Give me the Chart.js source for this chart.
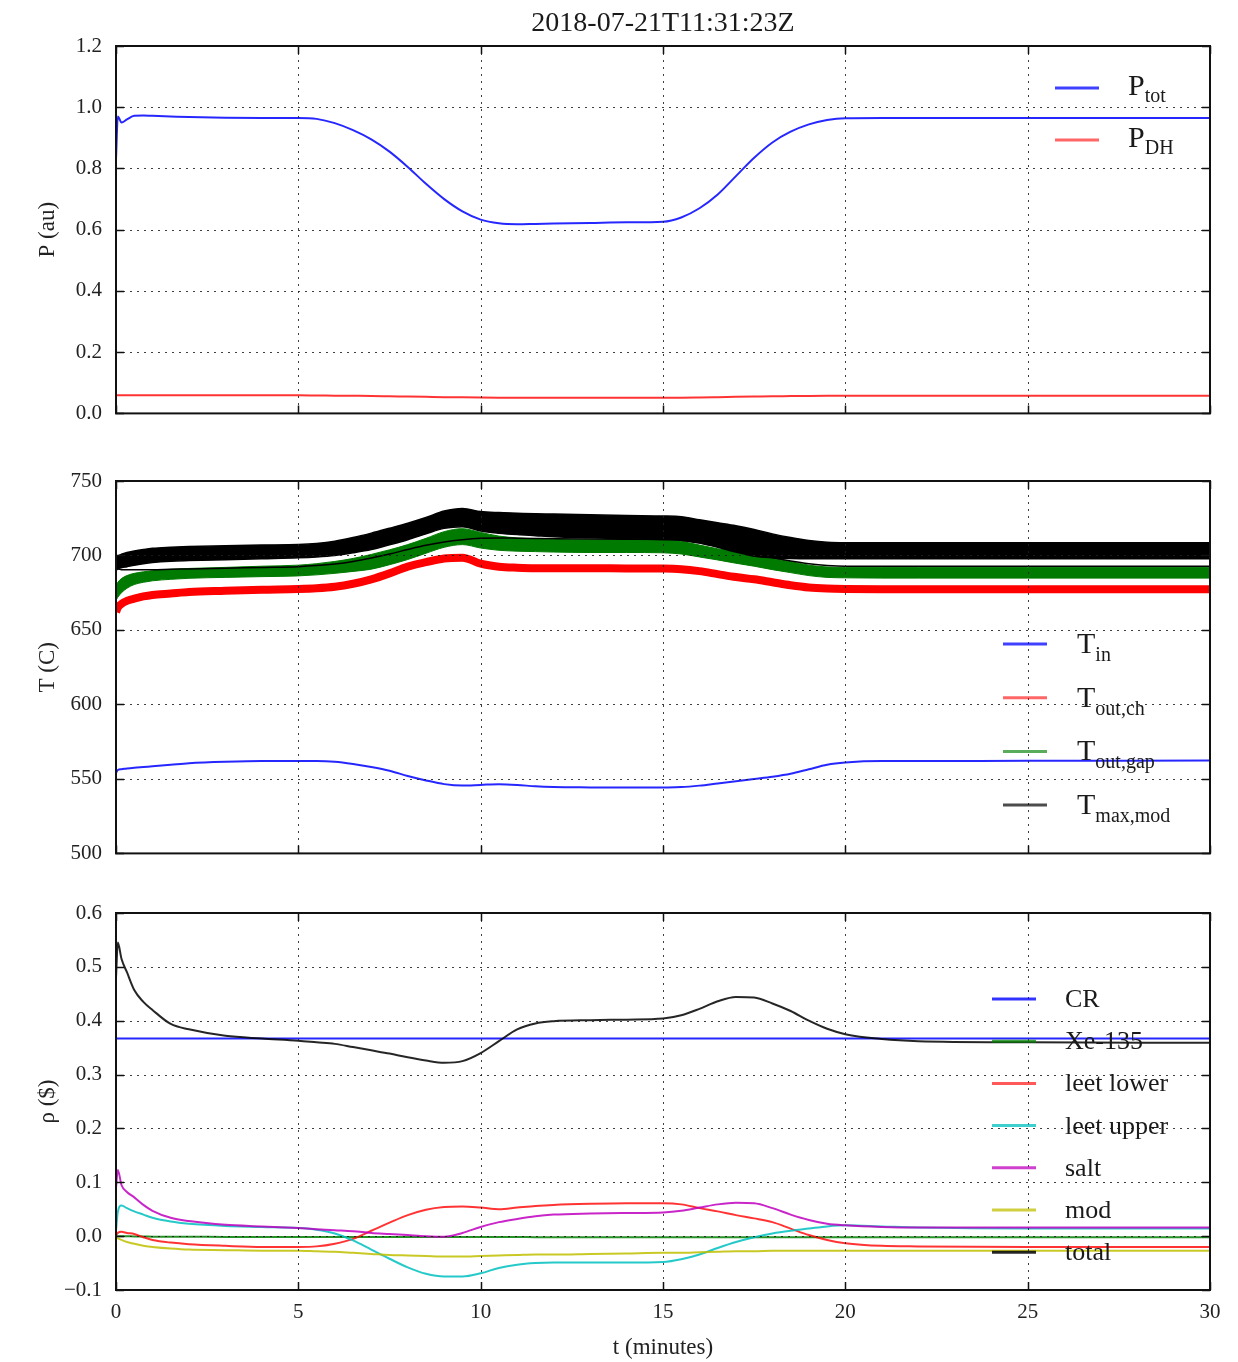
<!DOCTYPE html>
<html>
<head>
<meta charset="utf-8">
<script src="https://cdn.jsdelivr.net/npm/chart.js@4.4.1/dist/chart.umd.min.js"></script>
<style>
  html, body { margin: 0; padding: 0; background: #fff; }
  #wrap { position: relative; width: 1238px; height: 1362px; }
  #wrap canvas { position: absolute; left: 0; }
</style>
</head>
<body>
<div id="wrap">
  <canvas id="power" width="1238" height="440" style="top:0px"></canvas>
  <canvas id="temps" width="1238" height="440" style="top:440px"></canvas>
  <canvas id="react" width="1238" height="482" style="top:880px"></canvas>
</div>
<script>
const serif = '"Liberation Serif", "Times New Roman", serif';
Chart.defaults.font.family = serif;
Chart.defaults.color = '#222';

const runTitle = '2018-07-21T11:31:23Z';

// time axis (minutes), shared by every series
const minutes = [0, 0.05, 0.15, 0.3, 0.5,
  0.75, 1, 1.5, 2, 3,
  4, 5, 5.5, 6, 6.5,
  7, 7.5, 8, 8.5, 9,
  9.5, 10, 10.5, 11, 11.5,
  12, 13, 14, 15, 15.5,
  16, 16.5, 17, 17.5, 18,
  18.5, 19, 19.5, 20, 21,
  22, 25, 30];

const timeTicks = [0, 5, 10, 15, 20, 25, 30];
const powerTicks = [0, 0.2, 0.4, 0.6, 0.8, 1.0, 1.2];
const tempTicks = [500, 550, 600, 650, 700, 750];
const rhoTicks = [-0.1, 0, 0.1, 0.2, 0.3, 0.4, 0.5, 0.6];

// power (au)
const pTot = [0.83, 0.97, 0.95, 0.96, 0.972,
  0.973, 0.972, 0.97, 0.968, 0.966,
  0.965, 0.965, 0.962, 0.948, 0.925,
  0.895, 0.855, 0.805, 0.75, 0.7,
  0.66, 0.633, 0.621, 0.618, 0.619,
  0.62, 0.622, 0.624, 0.626, 0.64,
  0.67, 0.715, 0.775, 0.835, 0.885,
  0.92, 0.944, 0.958, 0.964, 0.965,
  0.965, 0.965, 0.965];
const pDH = [0.059, 0.059, 0.059, 0.059, 0.059,
  0.059, 0.059, 0.059, 0.059, 0.059,
  0.059, 0.059, 0.0585, 0.058, 0.0575,
  0.057, 0.056, 0.055, 0.054, 0.053,
  0.0525, 0.052, 0.0515, 0.051, 0.051,
  0.051, 0.051, 0.051, 0.051, 0.0512,
  0.052, 0.053, 0.054, 0.055, 0.056,
  0.0565, 0.057, 0.0575, 0.058, 0.058,
  0.058, 0.058, 0.058];

// temperatures (C)
const tIn = [554, 556, 556.5, 557, 557.5,
  558, 558.5, 559.5, 560.5, 561.5,
  562, 562, 562, 561.5, 560,
  558, 555.5, 552, 549, 546.5,
  545.5, 546, 546.5, 546, 545,
  544.5, 544.3, 544.2, 544.3, 544.5,
  545.5, 547, 548.5, 550, 551.5,
  553.5, 556.5, 559.5, 561, 562,
  562, 562.2, 562.3];
const tOutCh = [662, 665, 667.5, 669.5, 671,
  672.5, 673.5, 674.5, 675.5, 676.3,
  677, 677.5, 678, 679, 681,
  684, 688, 692.5, 695.5, 698,
  698.5, 694.5, 692.5, 691.8, 691.5,
  691.5, 691.5, 691.3, 691.2, 690.8,
  689.5, 687.5, 685.5, 684, 682,
  680, 678.5, 677.8, 677.5, 677.3,
  677.3, 677.3, 677.3];
const tGapHigh = [680, 682, 684.5, 686.5, 688,
  689, 689.8, 690.7, 691.3, 692,
  692.8, 693.5, 694.5, 696, 698,
  700.7, 703.8, 707.3, 711.5, 716,
  718, 715.5, 713, 711.8, 711.2,
  710.8, 710.5, 710.5, 710.5, 709.5,
  707, 704.5, 702.5, 700.5, 698,
  695.8, 693.5, 692.3, 692, 692,
  692, 692, 692];
const tGapLow = [670, 672, 675, 678, 680.5,
  682, 683, 684, 684.7, 685.3,
  685.8, 686.3, 687, 688, 689.3,
  690.8, 693.8, 697.3, 701.5, 705.5,
  707.3, 705, 703.5, 702.9, 702.6,
  702.3, 702, 702, 701.8, 701,
  699, 697, 694.8, 692.8, 690.5,
  688.5, 686.5, 685.3, 685, 684.8,
  684.8, 684.8, 684.8];
const tModHigh = [698, 699.5, 700.8, 702, 703,
  704, 704.8, 705.5, 706, 706.6,
  707, 707.3, 708, 709.5, 712,
  715, 718.3, 721.7, 725.5, 729.8,
  731.5, 729.5, 728.8, 728.4, 728,
  727.8, 727.3, 726.8, 726.5, 726,
  724, 722, 720, 717.5, 714.5,
  712, 710, 708.8, 708.5, 708.5,
  708.5, 708.5, 708.5];
const tModLow = [690, 691, 691.8, 692.5, 693.5,
  694.5, 695.3, 696.2, 696.6, 697.2,
  697.8, 698.4, 699, 700, 701.8,
  704, 707.2, 710.6, 714.5, 718.2,
  719.3, 716.5, 715, 714, 713.3,
  712.6, 711.9, 711.3, 710.8, 710.3,
  708.3, 705.5, 702.3, 699.5, 698.5,
  698, 697.8, 697.8, 697.8, 697.8,
  697.8, 697.8, 697.8];
const tModEdge = [691, 691, 690.5, 690.5, 690.5,
  690.5, 690.5, 690.8, 691, 691.5,
  692, 692.5, 693.2, 694.3, 696,
  698.3, 701, 704, 706.8, 709,
  710.5, 711.5, 711.8, 711.6, 711.4,
  711.2, 711, 710.9, 710.8, 710.3,
  708.5, 706, 703.5, 701, 698.5,
  696.3, 694.5, 693.3, 692.8, 692.8,
  692.8, 692.8, 692.8];

// reactivity ($)
const rhoCR = [0.367, 0.367, 0.367, 0.367, 0.367,
  0.367, 0.367, 0.367, 0.367, 0.367,
  0.367, 0.367, 0.367, 0.367, 0.367,
  0.367, 0.367, 0.367, 0.367, 0.367,
  0.367, 0.367, 0.367, 0.367, 0.367,
  0.367, 0.367, 0.367, 0.367, 0.367,
  0.367, 0.367, 0.367, 0.367, 0.367,
  0.367, 0.367, 0.367, 0.367, 0.367,
  0.367, 0.367, 0.367];
const rhoXe = [0, 0, 0, 0, -0.0005,
  -0.0005, -0.001, -0.001, -0.001, -0.0015,
  -0.0015, -0.0015, -0.0015, -0.0015, -0.0015,
  -0.0015, -0.0015, -0.0015, -0.0015, -0.0015,
  -0.0015, -0.0015, -0.0015, -0.0015, -0.002,
  -0.002, -0.002, -0.002, -0.002, -0.002,
  -0.002, -0.002, -0.002, -0.002, -0.002,
  -0.002, -0.002, -0.002, -0.002, -0.002,
  -0.002, -0.002, -0.002];
const rhoLeetLower = [0.002, 0.006, 0.008, 0.006, 0.004,
  -0.002, -0.007, -0.012, -0.015, -0.018,
  -0.02, -0.02, -0.019, -0.014, -0.005,
  0.01, 0.025, 0.039, 0.049, 0.054,
  0.055, 0.053, 0.05, 0.053, 0.056,
  0.058, 0.06, 0.061, 0.061, 0.059,
  0.052, 0.046, 0.039, 0.033, 0.026,
  0.014, 0.002, -0.007, -0.013, -0.018,
  -0.019, -0.02, -0.02];
const rhoLeetUpper = [0.01, 0.045, 0.057, 0.052, 0.046,
  0.04, 0.034, 0.027, 0.023, 0.019,
  0.017, 0.015, 0.012, 0.005, -0.008,
  -0.025, -0.042, -0.058, -0.07, -0.075,
  -0.075, -0.069, -0.059, -0.053, -0.05,
  -0.049, -0.049, -0.049, -0.048, -0.043,
  -0.034, -0.022, -0.011, -0.002, 0.005,
  0.01, 0.014, 0.018, 0.02, 0.018,
  0.016, 0.014, 0.014];
const rhoSalt = [0.09, 0.123, 0.095, 0.082, 0.072,
  0.058, 0.047, 0.034, 0.028, 0.021,
  0.018, 0.015, 0.013, 0.011, 0.009,
  0.006, 0.004, 0.002, 0.0, -0.001,
  0.006, 0.017, 0.026, 0.032, 0.037,
  0.04, 0.042, 0.043, 0.044, 0.047,
  0.053, 0.059, 0.062, 0.061, 0.052,
  0.04, 0.03, 0.023, 0.02, 0.017,
  0.016, 0.016, 0.016];
const rhoMod = [-0.002, -0.004, -0.007, -0.011, -0.014,
  -0.018, -0.02, -0.023, -0.025, -0.026,
  -0.027, -0.027, -0.028, -0.029, -0.031,
  -0.033, -0.035, -0.036, -0.037, -0.038,
  -0.038, -0.037, -0.036, -0.035, -0.034,
  -0.034, -0.033, -0.032, -0.031, -0.031,
  -0.03, -0.029, -0.028, -0.028, -0.027,
  -0.027, -0.027, -0.027, -0.027, -0.027,
  -0.027, -0.027, -0.027];
const rhoTotal = [0.48, 0.545, 0.515, 0.49, 0.457,
  0.435, 0.42, 0.394, 0.384, 0.372,
  0.367, 0.363, 0.36, 0.357, 0.351,
  0.345, 0.339, 0.332, 0.326, 0.322,
  0.325, 0.34, 0.362, 0.384, 0.395,
  0.399, 0.401, 0.402, 0.404, 0.41,
  0.422, 0.436, 0.444, 0.443, 0.432,
  0.418, 0.4, 0.385, 0.375, 0.366,
  0.362, 0.36, 0.359];

const pts = ys => minutes.map((t, i) => ({ x: t, y: ys[i] }));

function line(ys, color, extra) {
  return Object.assign({
    data: pts(ys),
    borderColor: color,
    backgroundColor: color,
    borderWidth: 2,
    pointRadius: 0,
    fill: false,
    cubicInterpolationMode: 'monotone'
  }, extra || {});
}

// dotted grid on top of the data, boxed frame, inward ticks, title and subscript legend
const mplFrame = {
  id: 'mplFrame',
  afterDatasetsDraw(chart) {
    const { ctx, chartArea: a, scales: { x, y } } = chart;
    ctx.save();
    ctx.lineWidth = 1;
    ctx.strokeStyle = 'rgba(30,30,30,0.85)';
    ctx.setLineDash([2, 5]);
    ctx.beginPath();
    x.ticks.forEach(t => {
      const px = Math.round(x.getPixelForValue(t.value)) + 0.5;
      ctx.moveTo(px, a.top); ctx.lineTo(px, a.bottom);
    });
    y.ticks.forEach(t => {
      const py = Math.round(y.getPixelForValue(t.value)) + 0.5;
      ctx.moveTo(a.left, py); ctx.lineTo(a.right, py);
    });
    ctx.stroke();
    ctx.setLineDash([]);
    ctx.strokeStyle = '#111';
    ctx.lineWidth = 1.5;
    ctx.beginPath();
    x.ticks.forEach(t => {
      const px = Math.round(x.getPixelForValue(t.value)) + 0.5;
      ctx.moveTo(px, a.top); ctx.lineTo(px, a.top + 8);
      ctx.moveTo(px, a.bottom); ctx.lineTo(px, a.bottom - 8);
    });
    y.ticks.forEach(t => {
      const py = Math.round(y.getPixelForValue(t.value)) + 0.5;
      ctx.moveTo(a.left, py); ctx.lineTo(a.left + 8, py);
      ctx.moveTo(a.right, py); ctx.lineTo(a.right - 8, py);
    });
    ctx.stroke();
    ctx.lineWidth = 2;
    ctx.strokeRect(a.left, a.top, a.right - a.left, a.bottom - a.top);
    ctx.restore();
  },
  afterDraw(chart, args, o) {
    const { ctx, chartArea: a } = chart;
    ctx.save();
    ctx.fillStyle = '#1a1a1a';
    if (o.heading) {
      ctx.font = '28px ' + serif;
      ctx.textAlign = 'center';
      ctx.textBaseline = 'alphabetic';
      ctx.fillText(o.heading, (a.left + a.right) / 2, 31);
    }
    if (o.legend) {
      const L = o.legend;
      let row = 0;
      chart.data.datasets.forEach(ds => {
        if (!ds.label) return;
        const yy = L.y + row * L.dy;
        row++;
        ctx.strokeStyle = ds.legendColor || ds.borderColor;
        ctx.lineWidth = 3;
        ctx.beginPath();
        ctx.moveTo(L.x, yy); ctx.lineTo(L.x + 44, yy);
        ctx.stroke();
        ctx.fillStyle = '#1a1a1a';
        ctx.textAlign = 'left';
        ctx.textBaseline = 'alphabetic';
        ctx.font = L.size + 'px ' + serif;
        ctx.fillText(ds.label, L.tx, yy + L.base);
        if (ds.sub) {
          const w = ctx.measureText(ds.label).width;
          ctx.font = L.subSize + 'px ' + serif;
          ctx.fillText(ds.sub, L.tx + w, yy + L.subBase);
        }
      });
    }
    ctx.restore();
  }
};

function fmt1(v) {
  return (v < -1e-9 ? '\u2212' : '') + Math.abs(v).toFixed(1);
}

function makeOptions(cfg) {
  return {
    responsive: false,
    animation: false,
    events: [],
    layout: { padding: { top: cfg.top, right: 28, left: 0, bottom: 0 } },
    plugins: {
      legend: { display: false },
      tooltip: { enabled: false },
      mplFrame: { heading: cfg.heading, legend: cfg.legend }
    },
    scales: {
      x: {
        type: 'linear', min: 0, max: 30,
        grid: { display: false, drawTicks: false },
        border: { display: false },
        afterBuildTicks: s => { s.ticks = timeTicks.map(v => ({ value: v })); },
        ticks: { display: cfg.showX, padding: 10, color: '#222', font: { size: 21 } },
        title: { display: cfg.showX, text: 't (minutes)', color: '#222', font: { size: 23 }, padding: { top: 0, bottom: 0 } },
        afterFit: s => { s.height = cfg.xh; }
      },
      y: {
        type: 'linear', min: cfg.ticks[0], max: cfg.ticks[cfg.ticks.length - 1],
        grid: { display: false, drawTicks: false },
        border: { display: false },
        afterBuildTicks: s => { s.ticks = cfg.ticks.map(v => ({ value: v })); },
        ticks: { padding: 14, color: '#222', font: { size: 21 }, callback: cfg.fmt },
        title: { display: true, text: cfg.yTitle, color: '#222', font: { size: 23 }, padding: { top: 34, bottom: 0 } },
        afterFit: s => { s.width = 116; }
      }
    }
  };
}

new Chart(document.getElementById('power'), {
  type: 'line',
  data: {
    datasets: [
      line(pTot, 'rgba(0,0,255,0.85)', { label: 'P', sub: 'tot', legendColor: 'rgba(0,0,255,0.75)', order: 1 }),
      line(pDH, 'rgba(255,0,0,0.8)', { label: 'P', sub: 'DH', legendColor: 'rgba(255,0,0,0.6)', order: 0 })
    ]
  },
  options: makeOptions({
    top: 46, xh: 16, showX: false, ticks: powerTicks, yTitle: 'P (au)', fmt: fmt1,
    heading: runTitle,
    legend: { x: 1055, tx: 1128, y: 88, dy: 52, size: 30, subSize: 20, base: 7, subBase: 14 }
  }),
  plugins: [mplFrame]
});

// legend rows are in canvas coordinates (this canvas starts 440px down the page)
new Chart(document.getElementById('temps'), {
  type: 'line',
  data: {
    datasets: [
      line(tIn, 'rgba(0,0,255,0.85)', { label: 'T', sub: 'in', legendColor: 'rgba(0,0,255,0.75)', order: 4 }),
      line(tOutCh, '#ff0000', { label: 'T', sub: 'out,ch', legendColor: 'rgba(255,0,0,0.6)', borderWidth: 8, order: 3 }),
      line(tGapHigh, '#007a00', { label: 'T', sub: 'out,gap', legendColor: 'rgba(0,128,0,0.65)', borderWidth: 1, order: 2 }),
      line(tGapLow, '#007a00', { borderWidth: 1, fill: '-1', order: 2 }),
      line(tModHigh, '#000000', { label: 'T', sub: 'max,mod', legendColor: 'rgba(0,0,0,0.7)', borderWidth: 1.5, order: 1 }),
      line(tModLow, '#000000', { borderWidth: 1.5, fill: '-1', order: 1 }),
      line(tModEdge, '#000000', { borderWidth: 1.5, order: 0 })
    ]
  },
  options: makeOptions({
    top: 41, xh: 23, showX: false, ticks: tempTicks, yTitle: 'T (C)', fmt: v => String(Math.round(v)),
    legend: { x: 1003, tx: 1077, y: 204, dy: 53.7, size: 30, subSize: 20, base: 9, subBase: 17 }
  }),
  plugins: [mplFrame]
});

// this canvas starts 880px down the page
new Chart(document.getElementById('react'), {
  type: 'line',
  data: {
    datasets: [
      line(rhoCR, 'rgba(0,0,255,0.85)', { label: 'CR', legendColor: 'rgba(0,0,255,0.8)', order: 6 }),
      line(rhoXe, 'rgba(0,128,0,0.85)', { label: 'Xe-135', legendColor: 'rgba(0,128,0,0.75)', order: 5 }),
      line(rhoLeetLower, 'rgba(255,0,0,0.8)', { label: 'leet lower', legendColor: 'rgba(255,0,0,0.65)', order: 4 }),
      line(rhoLeetUpper, 'rgba(0,191,191,0.85)', { label: 'leet upper', legendColor: 'rgba(0,191,191,0.75)', order: 3 }),
      line(rhoSalt, 'rgba(191,0,191,0.85)', { label: 'salt', legendColor: 'rgba(191,0,191,0.75)', order: 2 }),
      line(rhoMod, 'rgba(191,191,0,0.85)', { label: 'mod', legendColor: 'rgba(191,191,0,0.75)', order: 1 }),
      line(rhoTotal, 'rgba(0,0,0,0.85)', { label: 'total', legendColor: 'rgba(0,0,0,0.85)', order: 0 })
    ]
  },
  options: makeOptions({
    top: 33, xh: 72, showX: true, ticks: rhoTicks, yTitle: '\u03C1 ($)', fmt: fmt1,
    legend: { x: 992, tx: 1065, y: 119, dy: 42.2, size: 26, subSize: 18, base: 8, subBase: 14 }
  }),
  plugins: [mplFrame]
});
</script>
</body>
</html>
